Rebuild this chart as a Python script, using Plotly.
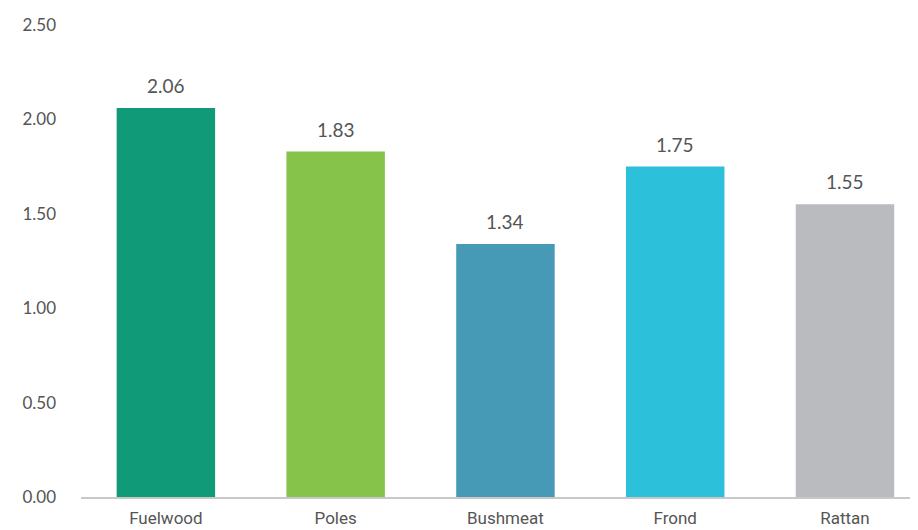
import plotly.graph_objects as go

categories = ["Fuelwood", "Poles", "Bushmeat", "Frond", "Rattan"]
values = [2.06, 1.83, 1.34, 1.75, 1.55]
colors = ["#119a78", "#86c34a", "#479ab5", "#2cc0da", "#babbbf"]
y_ticks = [0, 0.5, 1.0, 1.5, 2.0, 2.5]

_TEXT = "#555555"
_NUM_FONT = "Lato, Open Sans, sans-serif"
_CAT_FONT = "Liberation Sans Narrow, Roboto, sans-serif"

fig = go.Figure(go.Bar(
    x=categories, y=values, marker_color=colors, marker_line_width=0,
    width=0.58, hoverinfo="x+y",
))

# value labels above the bars, with a bit more air than textposition="outside"
for cat, v in zip(categories, values):
    fig.add_annotation(x=cat, y=v, text=f"{v:.2f}", showarrow=False,
                       yanchor="bottom", yshift=9,
                       font=dict(family=_NUM_FONT, size=19, color=_TEXT))

# page body has an 8px margin, so the figure is sized/offset to compensate
fig.update_layout(
    width=910, height=522,
    margin=dict(l=73, r=0, t=17, b=33),
    paper_bgcolor="white", plot_bgcolor="white",
    showlegend=False,
)
fig.update_xaxes(
    range=[-0.5, 4.43], showgrid=False, zeroline=False,
    showline=True, linecolor="#c8c8c8", linewidth=2,
    tickfont=dict(family=_CAT_FONT, size=17, color=_TEXT), ticks="",
    ticklabelstandoff=5, automargin=False,
)
fig.update_yaxes(
    range=[0, 2.5], tickvals=y_ticks, ticktext=[f"{t:.2f}" for t in y_ticks],
    showgrid=False, zeroline=False, showline=False,
    tickfont=dict(family=_NUM_FONT, size=17, color=_TEXT), ticks="",
    ticklabelstandoff=24,
)

fig.write_html("out.html")
